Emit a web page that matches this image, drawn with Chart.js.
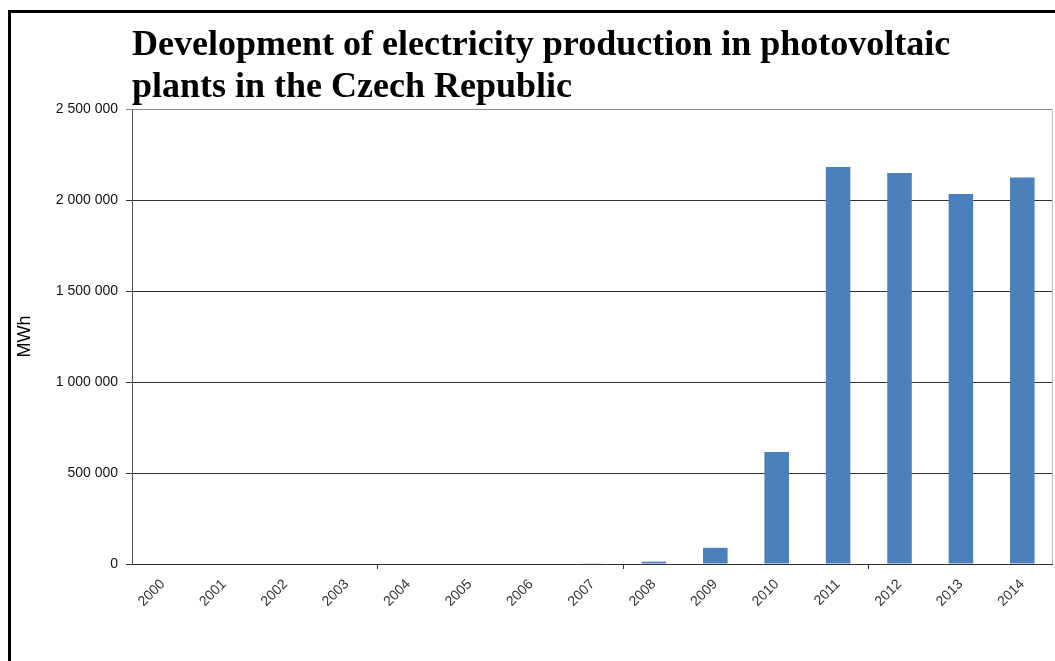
<!DOCTYPE html>
<html>
<head>
<meta charset="utf-8">
<script src="https://cdn.jsdelivr.net/npm/chart.js@4/dist/chart.umd.min.js"></script>
<style>
  html, body { margin: 0; padding: 0; background: #fff; }
  #wrap { position: relative; width: 1055px; height: 661px; overflow: hidden; }
  #frame {
    position: absolute; left: 8px; top: 10px; width: 1200px; height: 800px;
    border-left: 3px solid #000; border-top: 3px solid #000;
    pointer-events: none;
  }
</style>
</head>
<body>
<div id="wrap">
  <canvas id="chart" width="1055" height="661"></canvas>
  <div id="frame"></div>
</div>
<script>
// 데이터
const years = ["2000", "2001", "2002", "2003", "2004", "2005", "2006", "2007",
  "2008", "2009", "2010", "2011", "2012", "2013", "2014"];
const production = [0, 0, 0, 0, 0, 0, 0, 1800,
  13000, 89000, 616000, 2182000, 2149000, 2033000, 2123000];
const titleLines = ["Development of electricity production in photovoltaic",
  "plants in the Czech Republic"];
const axisTitle = "MWh";

const formatTick = (v) => String(v).replace(/\B(?=(\d{3})+(?!\d))/g, " ");

// 제목 + 오른쪽 테두리
const decor = {
  id: "decor",
  afterDraw(chart) {
    const { ctx, chartArea } = chart;
    ctx.save();
    ctx.fillStyle = "#000";
    ctx.font = "bold 36px 'Liberation Serif', 'Times New Roman', serif";
    ctx.textBaseline = "alphabetic";
    ctx.fillText(titleLines[0], chartArea.left, chartArea.top - 54);
    ctx.fillText(titleLines[1], chartArea.left, chartArea.top - 12);
    ctx.strokeStyle = "#bbb";
    ctx.lineWidth = 1;
    ctx.beginPath();
    ctx.moveTo(chartArea.right - 0.5, chartArea.top);
    ctx.lineTo(chartArea.right - 0.5, chartArea.bottom);
    ctx.stroke();
    ctx.restore();
  },
};

new Chart(document.getElementById("chart").getContext("2d"), {
  type: "bar",
  data: {
    labels: years,
    datasets: [{
      data: production,
      backgroundColor: "#4a81bd",
      barPercentage: 0.4,
      categoryPercentage: 1,
    }],
  },
  options: {
    responsive: false,
    animation: false,
    layout: { padding: { top: 109, right: 2, left: 0, bottom: 0 } },
    plugins: { legend: { display: false }, tooltip: { enabled: false } },
    scales: {
      x: {
        afterFit: (s) => { s.height = 97; },
        grid: {
          offset: true,
          drawOnChartArea: false,
          tickLength: 5,
          color: (c) => (c.index === 4 || c.index === 8 || c.index === 12) ? "#333" : "rgba(0,0,0,0)",
        },
        border: { display: false },
        ticks: {
          maxRotation: 45, minRotation: 45, padding: 7,
          color: "#333",
          font: { family: "'Liberation Sans', Arial, sans-serif", size: 14 },
        },
      },
      y: {
        min: 0, max: 2500000,
        afterFit: (s) => { s.width = 132; },
        ticks: {
          stepSize: 500000, padding: 8, color: "#111",
          font: { family: "'Liberation Sans', Arial, sans-serif", size: 14 },
          callback: (v) => formatTick(v),
        },
        grid: {
          color: (c) => c.index === 5 ? "#888" : "#333",
          borderDash: [4, 1],
          tickLength: 6,
          tickBorderDash: [],
        },
        border: { display: true, color: "#555", dash: [] },
        title: {
          display: true, text: axisTitle, color: "#000",
          padding: { top: 14, bottom: 0 },
          font: { family: "'Liberation Sans', Arial, sans-serif", size: 18 },
        },
      },
    },
  },
  plugins: [decor],
});
</script>
</body>
</html>
